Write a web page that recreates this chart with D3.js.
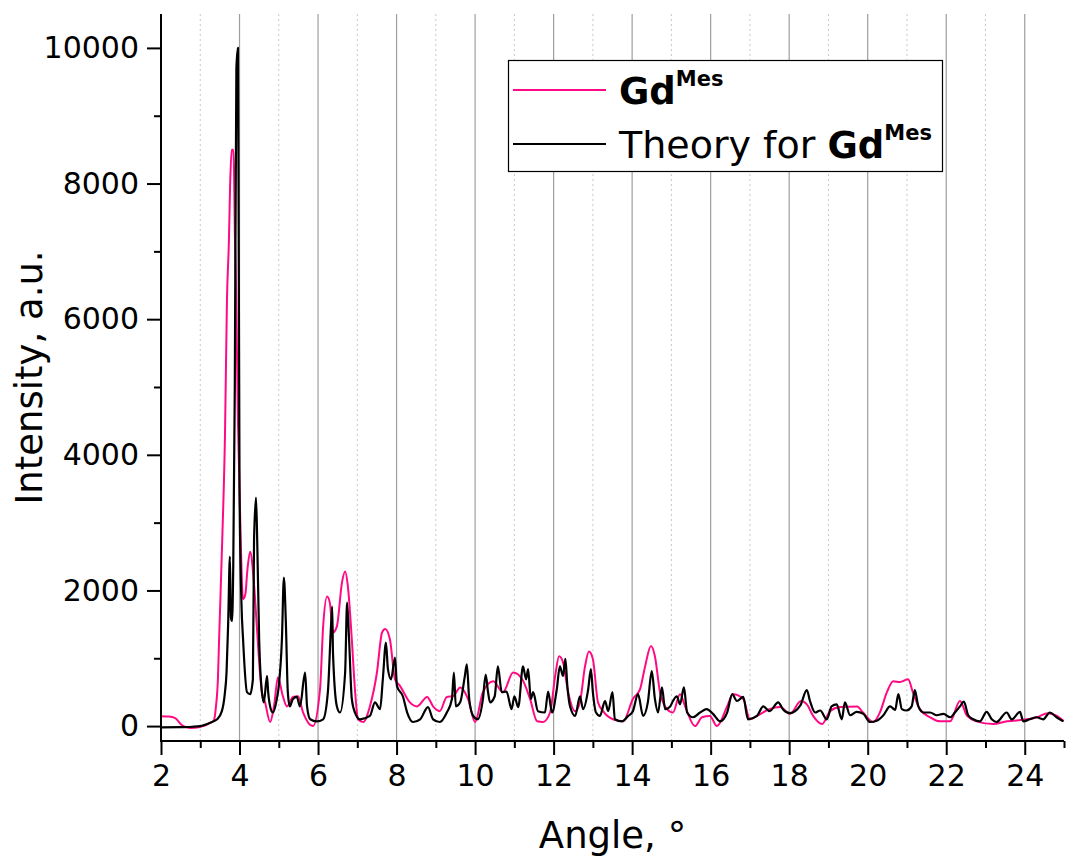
<!DOCTYPE html>
<html><head><meta charset="utf-8">
<script src="https://cdn.jsdelivr.net/npm/d3@7"></script>
<style>body{margin:0;background:#fff}svg{display:block}</style>
</head><body><svg id="c" width="1068" height="857"></svg>
<script>
// Measured pattern (Gd^Mes)
const expAngle = [2.0,2.2,2.36,2.53,2.74,2.99,3.25,3.35,3.4,3.45,3.48,3.56,3.63,3.68,3.73,3.76,3.8,3.84,3.86,3.88,3.91,3.96,4.01,4.09,4.15,4.2,4.27,4.36,4.44,4.52,4.57,4.65,4.78,4.88,4.98,5.1,5.21,5.36,5.49,5.62,5.87,6.05,6.13,6.23,6.3,6.38,6.48,6.61,6.69,6.76,6.86,6.94,7.02,7.15,7.32,7.5,7.63,7.71,7.83,7.96,8.09,8.34,8.52,8.78,8.93,9.1,9.28,9.44,9.62,9.82,10.0,10.2,10.46,10.71,10.97,11.2,11.4,11.58,11.73,11.91,12.04,12.14,12.24,12.37,12.55,12.67,12.8,12.9,13.0,13.13,13.26,13.51,13.77,14.02,14.2,14.33,14.48,14.58,14.71,14.89,15.04,15.22,15.35,15.6,15.78,15.98,16.16,16.42,16.57,16.83,17.0,17.18,17.5,17.77,18.02,18.3,18.45,18.61,18.84,19.04,19.3,19.73,19.88,20.14,20.31,20.49,20.65,20.82,21.03,21.15,21.33,21.59,21.84,22.1,22.35,22.53,22.78,23.19,23.55,24.06,24.31,24.59,24.82,25.0];
const expIntensity = [145,140,118,15,-30,-15,45,90,290,700,1280,2750,4300,6280,7160,7970,8500,8500,8190,7300,6500,4500,3230,1870,1950,2300,2570,2160,1480,790,500,350,60,300,720,450,290,430,440,200,0,540,1470,1910,1820,1380,1470,2120,2280,2060,1280,540,100,60,290,790,1380,1430,1280,690,590,350,290,430,290,220,430,440,570,400,60,500,660,500,790,690,400,70,60,200,740,1030,940,500,220,350,880,1100,990,350,220,100,70,400,540,880,1180,1030,500,250,200,470,290,0,130,150,0,290,470,400,100,150,250,280,180,370,320,150,30,220,280,290,200,60,200,500,660,650,690,500,250,130,70,70,370,150,70,30,70,100,130,190,150,70];

// Theoretical pattern
const theoAngle = [2.0,2.5,2.8,3.0,3.25,3.43,3.55,3.62,3.67,3.71,3.755,3.78,3.81,3.84,3.88,3.92,3.96,3.98,4.0,4.05,4.09,4.19,4.27,4.34,4.37,4.42,4.45,4.5,4.57,4.62,4.7,4.73,4.78,4.85,4.95,5.0,5.08,5.13,5.18,5.23,5.28,5.36,5.46,5.54,5.67,5.72,5.8,5.97,6.13,6.25,6.33,6.36,6.38,6.48,6.56,6.69,6.74,6.79,6.86,6.94,7.07,7.32,7.45,7.58,7.65,7.73,7.78,7.86,7.96,8.01,8.16,8.27,8.42,8.6,8.8,8.93,9.1,9.28,9.41,9.46,9.51,9.62,9.74,9.79,9.85,9.95,10.07,10.2,10.27,10.33,10.38,10.5,10.58,10.68,10.8,10.93,11.0,11.1,11.22,11.3,11.35,11.42,11.48,11.6,11.78,11.86,11.96,12.08,12.16,12.24,12.3,12.35,12.42,12.55,12.67,12.75,12.88,12.95,13.0,13.08,13.18,13.31,13.39,13.5,13.56,13.74,13.9,14.02,14.15,14.28,14.4,14.5,14.58,14.66,14.76,14.84,14.97,15.04,15.14,15.22,15.32,15.4,15.55,15.73,15.9,16.06,16.24,16.42,16.55,16.67,16.83,16.95,17.18,17.34,17.5,17.72,17.85,18.02,18.28,18.45,18.53,18.66,18.79,18.96,19.08,19.21,19.34,19.42,19.55,19.72,19.89,20.06,20.23,20.4,20.57,20.7,20.78,20.87,20.99,21.12,21.2,21.29,21.42,21.59,21.76,21.93,22.1,22.22,22.35,22.45,22.56,22.69,22.86,23.03,23.16,23.28,23.54,23.67,23.88,23.96,24.13,24.3,24.47,24.64,24.81,24.98];
const theoIntensity = [-20,-15,-10,0,50,100,220,450,800,1500,2500,1600,1550,2350,5000,9700,10000,7000,3500,1800,1280,500,470,690,2750,3370,2750,1280,500,350,740,500,290,200,400,590,1280,2190,1530,500,290,400,430,290,790,290,100,70,100,500,1470,1760,1090,290,200,790,1820,1280,400,200,100,150,350,250,690,1230,840,690,1010,590,440,200,60,100,280,100,60,200,400,790,290,350,740,910,400,150,100,400,760,500,350,440,880,500,510,250,440,280,880,690,840,400,500,220,200,510,200,540,880,740,990,590,290,150,440,250,540,840,500,200,150,370,220,500,100,70,150,220,470,150,350,810,400,200,570,250,290,370,440,320,570,200,130,200,250,180,70,200,470,370,430,100,150,290,220,350,240,190,300,530,370,200,230,100,290,320,100,350,160,210,180,60,80,160,290,240,470,250,230,290,530,290,200,200,160,180,130,200,290,360,160,100,70,210,100,60,200,100,210,70,100,130,100,200,130,70];

const xMajorTicks = [2,4,6,8,10,12,14,16,18,20,22,24];
const xMinorTicks = [3,5,7,9,11,13,15,17,19,21,23,25];
const yMajorTicks = [0,2000,4000,6000,8000,10000];
const yMinorTicks = [1000,3000,5000,7000,9000];
const seriesNames = ["Gd", "Theory for "];
const seriesSup = "Mes";

const W = 1068, H = 857;
const L = 161, R = 1064, T = 14, B = 741;
const FONT = "'DejaVu Sans', Verdana, sans-serif";

const svg = d3.select("#c");
const x = d3.scaleLinear().domain([2, 25]).range([L, R]);
const y = d3.scaleLinear().domain([-220, 10500]).range([B, T]);

// grid lines
const g = svg.append("g");
g.selectAll("line.maj").data(xMajorTicks.filter(d => d > 2)).enter().append("line")
  .attr("x1", d => x(d)).attr("x2", d => x(d)).attr("y1", T).attr("y2", B)
  .attr("stroke", "#9e9e9e").attr("stroke-width", 1.2);
g.selectAll("line.min").data(xMinorTicks.filter(d => d < 25)).enter().append("line")
  .attr("x1", d => x(d)).attr("x2", d => x(d)).attr("y1", T).attr("y2", B)
  .attr("stroke", "#c8c8c8").attr("stroke-width", 1).attr("stroke-dasharray", "2,3");

// clip
svg.append("clipPath").attr("id", "clip").append("rect")
  .attr("x", L).attr("y", T).attr("width", R - L).attr("height", B - T);

const expData = expAngle.map((a, i) => [a, expIntensity[i]]);
const theoData = theoAngle.map((a, i) => [a, theoIntensity[i]]);
const lineGen = d3.line().x(d => x(d[0])).y(d => y(d[1])).curve(d3.curveMonotoneX);

svg.append("path").datum(expData).attr("clip-path", "url(#clip)")
  .attr("d", lineGen).attr("fill", "none")
  .attr("stroke", "#ff0a84").attr("stroke-width", 2).attr("stroke-linejoin", "round");
svg.append("path").datum(theoData).attr("clip-path", "url(#clip)")
  .attr("d", lineGen).attr("fill", "none")
  .attr("stroke", "#000").attr("stroke-width", 2.2).attr("stroke-linejoin", "round");

// axes
const xAxis = svg.append("g").attr("transform", `translate(0,${B})`)
  .call(d3.axisBottom(x).tickValues(xMajorTicks).tickSize(14).tickPadding(10).tickFormat(d3.format("d")));
const xMinor = svg.append("g").attr("transform", `translate(0,${B})`)
  .call(d3.axisBottom(x).tickValues(xMinorTicks).tickSize(7).tickFormat(""));
const yAxis = svg.append("g").attr("transform", `translate(${L},0)`)
  .call(d3.axisLeft(y).tickValues(yMajorTicks).tickSize(14).tickPadding(8).tickFormat(d3.format("d")));
const yMinor = svg.append("g").attr("transform", `translate(${L},0)`)
  .call(d3.axisLeft(y).tickValues(yMinorTicks).tickSize(7).tickFormat(""));

[xAxis, xMinor, yAxis, yMinor].forEach(a => {
  a.select(".domain").remove();
  a.selectAll(".tick line").attr("stroke", "#000").attr("stroke-width", 2);
  a.selectAll("text").attr("font-family", FONT).attr("font-size", 30).attr("fill", "#000");
});
svg.append("line").attr("x1", L).attr("x2", L).attr("y1", T).attr("y2", B + 1)
  .attr("stroke", "#000").attr("stroke-width", 2);
svg.append("line").attr("x1", L - 1).attr("x2", R).attr("y1", B).attr("y2", B)
  .attr("stroke", "#000").attr("stroke-width", 2);

// axis titles
svg.append("text").attr("x", (L + R) / 2).attr("y", 848).attr("text-anchor", "middle")
  .attr("font-family", FONT).attr("font-size", 37).text("Angle, °");
svg.append("text").attr("transform", `translate(42,${(T + B) / 2}) rotate(-90)`)
  .attr("text-anchor", "middle").attr("font-family", FONT).attr("font-size", 37)
  .text("Intensity, a.u.");

// legend
const lg = svg.append("g");
lg.append("rect").attr("x", 508.5).attr("y", 60.5).attr("width", 434).attr("height", 111)
  .attr("fill", "#fff").attr("stroke", "#000").attr("stroke-width", 1.2);
lg.append("line").attr("x1", 513).attr("x2", 606).attr("y1", 90).attr("y2", 90)
  .attr("stroke", "#ff0a84").attr("stroke-width", 2);
lg.append("line").attr("x1", 513).attr("x2", 606).attr("y1", 144).attr("y2", 144)
  .attr("stroke", "#000").attr("stroke-width", 2);
const t1 = lg.append("text").attr("x", 619).attr("y", 104).attr("font-family", FONT).attr("font-size", 37);
t1.append("tspan").attr("font-weight", "bold").text(seriesNames[0]);
t1.append("tspan").attr("font-weight", "bold").attr("font-size", 21).attr("dy", -18).text(seriesSup);
const t2 = lg.append("text").attr("x", 619).attr("y", 158).attr("font-family", FONT).attr("font-size", 37);
t2.append("tspan").attr("font-size", 38).text(seriesNames[1]);
t2.append("tspan").attr("font-weight", "bold").text("Gd");
t2.append("tspan").attr("font-weight", "bold").attr("font-size", 21).attr("dy", -18).text(seriesSup);
</script></body></html>
